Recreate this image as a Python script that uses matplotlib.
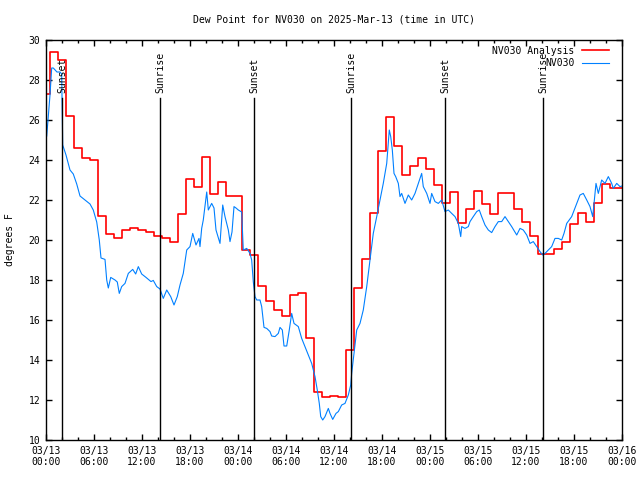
import matplotlib
matplotlib.use('Agg')
import matplotlib.pyplot as plt
from matplotlib.ticker import MultipleLocator

# hourly analysis (hours since 2025-03-13 00:00 UTC)
analysis_hours = list(range(0, 73))
analysis_dewpt = [27.3, 29.4, 29.0, 26.2, 24.6, 24.1, 24.0, 21.2, 20.3, 20.1,
                  20.5, 20.6, 20.5, 20.4, 20.2, 20.1, 19.9, 21.3, 23.05, 22.67,
                  24.17, 22.3, 22.9, 22.2, 22.2, 19.5, 19.25, 17.7, 16.95, 16.5,
                  16.2, 17.23, 17.33, 15.08, 12.4, 12.13, 12.18, 12.15, 14.5, 17.58,
                  19.03, 21.37, 24.43, 26.17, 24.68, 23.23, 23.7, 24.08, 23.55, 22.75,
                  21.83, 22.38, 20.83, 21.53, 22.43, 21.8, 21.28, 22.33, 22.33, 21.53,
                  20.92, 20.2, 19.28, 19.28, 19.53, 19.92, 20.8, 21.33, 20.88, 21.83,
                  22.8, 22.58, 22.6]

# station observations
obs_hours = [0.09, 0.5, 0.71, 0.91, 1.37, 1.75, 1.96, 2.09, 2.5, 3.0, 3.41, 3.84,
             4.25, 4.875, 5.5, 5.91, 6.34, 6.66, 6.875, 7.375, 7.59, 7.79, 8.09,
             8.625, 8.91, 9.16, 9.46, 9.875, 10.29, 10.84, 11.21, 11.54, 11.96,
             12.5, 13.125, 13.41, 13.84, 14.25, 14.66, 15.09, 15.59, 16.0, 16.41,
             16.75, 17.16, 17.59, 18.0, 18.34, 18.75, 19.125, 19.25, 19.46, 19.66,
             20.09, 20.29, 20.71, 21.0, 21.25, 21.625, 21.75, 21.96, 22.09, 22.375,
             22.79, 23.0, 23.25, 23.5, 23.75, 24.04, 24.46, 24.66, 25.09, 25.5,
             25.71, 25.91, 26.125, 26.34, 26.75, 26.96, 27.25, 27.59, 28.0, 28.21,
             28.625, 29.04, 29.25, 29.54, 29.75, 30.09, 30.41, 30.71, 31.0, 31.54,
             31.96, 32.375, 32.79, 33.21, 33.625, 33.91, 34.16, 34.34, 34.59,
             34.875, 35.29, 35.5, 35.84, 36.25, 36.54, 36.96, 37.375, 37.79, 38.09,
             38.21, 38.5, 38.84, 39.25, 39.66, 40.09, 40.5, 40.91, 41.34, 41.75,
             42.16, 42.59, 42.91, 43.09, 43.29, 43.5, 43.71, 44.04, 44.25, 44.46,
             44.875, 45.29, 45.71, 46.125, 46.54, 46.96, 47.16, 47.59, 48.0, 48.21,
             48.625, 49.04, 49.46, 49.875, 50.29, 50.71, 51.125, 51.54, 51.84,
             51.96, 52.375, 52.79, 53.0, 53.41, 53.84, 54.16, 54.46, 54.875, 55.29,
             55.71, 56.125, 56.54, 56.96, 57.375, 57.79, 58.21, 58.84, 59.25, 59.66,
             60.09, 60.5, 60.91, 61.34, 61.75, 62.09, 62.375, 62.79, 63.21, 63.625,
             64.04, 64.46, 64.75, 65.09, 65.71, 66.34, 66.75, 67.16, 67.59, 68.0,
             68.34, 68.5, 68.75, 69.04, 69.46, 69.875, 70.29, 70.71, 70.91, 71.34,
             71.75, 72.0]
obs_dewpt = [25.2, 27.25, 28.6, 28.6, 28.4, 28.4, 28.3, 24.75, 24.25, 23.5, 23.3, 22.8,
             22.2, 22.0, 21.8, 21.5, 20.9, 20.0, 19.1, 19.03, 18.0, 17.6, 18.13,
             18.0, 17.9, 17.33, 17.67, 17.83, 18.33, 18.53, 18.3, 18.67, 18.3,
             18.13, 17.92, 17.98, 17.67, 17.55, 17.08, 17.5, 17.17, 16.75, 17.17,
             17.75, 18.33, 19.5, 19.67, 20.33, 19.75, 20.08, 19.67, 20.58, 21.0,
             22.4, 21.5, 21.83, 21.6, 20.5, 20.0, 19.83, 21.0, 21.75, 21.17,
             20.5, 19.92, 20.4, 21.67, 21.6, 21.5, 21.4, 19.5, 19.58, 19.33,
             19.0, 17.92, 17.17, 17.0, 17.0, 16.67, 15.63, 15.58, 15.42, 15.2,
             15.17, 15.33, 15.63, 15.5, 14.7, 14.7, 15.5, 16.33, 15.83, 15.67,
             15.08, 14.67, 14.25, 13.83, 13.17, 12.5, 11.83, 11.17, 11.0,
             11.17, 11.58, 11.33, 11.03, 11.33, 11.42, 11.75, 11.83, 12.25, 12.75,
             13.33, 14.33, 15.5, 15.83, 16.5, 17.67, 19.0, 20.33, 21.17, 22.0,
             22.83, 23.83, 25.5, 25.17, 24.5, 23.33, 23.17, 22.83, 22.17, 22.33,
             21.83, 22.25, 22.0, 22.33, 22.83, 23.33, 22.67, 22.33, 21.83, 22.33,
             21.92, 21.83, 22.0, 21.42, 21.5, 21.33, 21.17, 20.83, 20.17,
             20.67, 20.58, 20.67, 20.92, 21.17, 21.42, 21.5, 21.17, 20.75, 20.5,
             20.37, 20.67, 20.92, 20.92, 21.17, 20.92, 20.67, 20.25, 20.58, 20.5,
             20.25, 19.83, 19.92, 19.67, 19.42, 19.25, 19.33, 19.5, 19.67, 20.08,
             20.08, 20.0, 20.33, 20.83, 21.17, 21.83, 22.25, 22.33, 22.0, 21.67,
             21.17, 21.83, 22.83, 22.33, 23.0, 22.83, 23.17, 22.83, 22.58, 22.83,
             22.67, 22.7]

sun_hours = [2.04, 14.29, 26.04, 38.17, 49.92, 62.17]
sun_labels = ['Sunset', 'Sunrise', 'Sunset', 'Sunrise', 'Sunset', 'Sunrise']

tick_hours = list(range(0, 73, 6))
tick_labels = ['03/13\n00:00', '03/13\n06:00', '03/13\n12:00', '03/13\n18:00',
               '03/14\n00:00', '03/14\n06:00', '03/14\n12:00', '03/14\n18:00',
               '03/15\n00:00', '03/15\n06:00', '03/15\n12:00', '03/15\n18:00',
               '03/16\n00:00']

plt.rcParams['font.family'] = 'DejaVu Sans Mono'
plt.rcParams['font.size'] = 7.0

fig = plt.figure(figsize=(6.4, 4.8), dpi=100)
ax = fig.add_axes([46 / 640, 40 / 480, 576 / 640, 400 / 480])

ax.step(analysis_hours, analysis_dewpt, where='mid', color='#ff0000', lw=1.2,
        label='NV030 Analysis')
ax.plot(obs_hours, obs_dewpt, color='#0080ff', lw=0.8, label='NV030')

for h, lab in zip(sun_hours, sun_labels):
    ax.plot([h, h], [10, 27.1], color='black', lw=1)
    ax.text(h, 27.35, lab, rotation=90, ha='center', va='bottom')

ax.set_xlim(0, 72)
ax.set_ylim(10, 30)
ax.set_xticks(tick_hours)
ax.set_xticklabels(tick_labels)
ax.xaxis.set_minor_locator(MultipleLocator(2))
ax.yaxis.set_major_locator(MultipleLocator(2))
ax.tick_params(which='both', direction='in', top=True, right=True, width=1)
ax.tick_params(which='major', length=4, pad=4)
ax.tick_params(which='minor', length=2.2)
for s in ax.spines.values():
    s.set_linewidth(1)

ax.set_ylabel('degrees F', labelpad=10)
ax.set_title('Dew Point for NV030 on 2025-Mar-13 (time in UTC)', fontsize=7.0,
             pad=12.5)

ax.legend(loc='upper right', bbox_to_anchor=(0.988, 1.0), frameon=False,
          markerfirst=False, handlelength=2.8, borderaxespad=0.2,
          labelspacing=0.25, handletextpad=0.8)

fig.savefig('out.png', dpi=100)
